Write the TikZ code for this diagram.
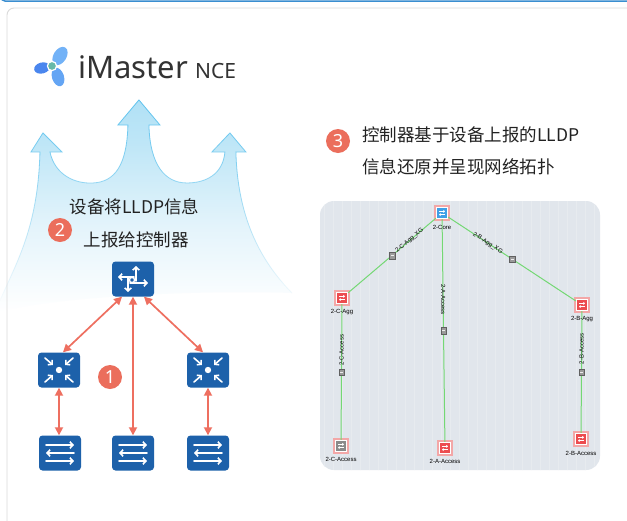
\documentclass[tikz,border=0pt]{standalone}
\usepackage{fontspec}
\setmainfont{Noto Sans}
\newfontfamily\cjk{Noto Sans CJK SC}
\newfontfamily\labfont{Liberation Sans}
\usetikzlibrary{arrows.meta,calc,fadings}

\definecolor{frameblue}{HTML}{3A8ED0}
\definecolor{panelline}{HTML}{DADADA}
\definecolor{devblue}{HTML}{1D61AA}
\definecolor{linkred}{HTML}{EE6F60}
\definecolor{badgered}{HTML}{EB6E5C}
\definecolor{plumetop}{HTML}{8FD4F3}
\definecolor{plumeupper}{HTML}{BEE6F7}
\definecolor{plumemid}{HTML}{E4F4FB}
\definecolor{plumeedge}{HTML}{5CC2EE}
\definecolor{panelgray}{HTML}{E1E6EC}
\definecolor{gridgray}{HTML}{E7EBEF}
\definecolor{topolink}{HTML}{74D874}
\definecolor{topored}{HTML}{EC4C4F}
\definecolor{topopink}{HTML}{F3A7A7}
\definecolor{topoblue}{HTML}{3E9FE6}
\definecolor{topogray}{HTML}{8A8A8A}
\definecolor{markergray}{HTML}{9A9A9A}
\definecolor{textdark}{HTML}{222222}
\definecolor{titlegray}{HTML}{333333}
\definecolor{lobeA}{HTML}{72B2F7}
\definecolor{lobeB}{HTML}{4A86EE}
\definecolor{lobeC}{HTML}{64A5F4}
\definecolor{lobeteal}{HTML}{67B9A9}

% vertical fill of the plume: white at the bottom, sky blue at the arrow tips
\pgfdeclareverticalshading{plumeshade}{100bp}{color(0bp)=(white); color(25bp)=(white);
  color(45bp)=(plumemid); color(65bp)=(plumeupper); color(100bp)=(plumetop)}

% outline of the three rising arrows (open path, bottom edge added when filling)
\newcommand\plumeoutline{(-2,305)
  .. controls (15,265) and (38,230) .. (40,152)
  -- (31,152) -- (43,133) -- (62,152) -- (50,152)
  .. controls (55,175) and (75,184) .. (93,183)
  .. controls (115,182) and (127,165) .. (128,125)
  -- (118,125) -- (139,100) -- (160,125) -- (149,125)
  .. controls (150,165) and (165,183) .. (187,183)
  .. controls (205,183) and (223,175) .. (225,152)
  -- (212,152) -- (230,133) -- (246,152) -- (236,152)
  .. controls (238,230) and (270,270) .. (292,293)}

\tikzset{
  dev/.style={rectangle, rounded corners=3.5pt, fill=devblue,
    minimum width=42pt, minimum height=35pt, inner sep=0pt},
  glyph/.style={white, line width=1.6pt, line cap=round},
  barb/.style={-{Straight Barb[length=3pt,width=6.5pt]}},
  lldp/.style={linkred, line width=1.7pt,
    {Triangle[length=8pt,width=8pt]}-{Triangle[length=8pt,width=8pt]}},
  badge/.style={circle, fill=badgered, text=white, minimum size=24pt,
    inner sep=0pt, font=\bfseries\fontsize{18}{18}\selectfont},
  cntext/.style={text=textdark, inner sep=0pt, font=\cjk\fontsize{17.5}{17.5}\selectfont},
  topo/.style={rectangle, minimum size=11pt, inner sep=0pt, fill=#1,
    draw=white, line width=1.4pt, preaction={draw=topopink, line width=4.6pt}},
  tlab/.style={inner sep=0pt, font=\labfont\fontsize{6}{6}\selectfont, text=black},
  tlink/.style={topolink, line width=1pt},
  marker/.style={rectangle, minimum width=5.5pt, minimum height=6.5pt, inner sep=0pt,
    fill=markergray, draw=gray!75!black, line width=0.4pt,
    path picture={\draw[white!85!gray, line width=0.5pt]
      ([xshift=-1.5pt]path picture bounding box.center) -- ([xshift=1.5pt]path picture bounding box.center);}},
  pics/routerglyph/.style={code={
    \draw[glyph,barb] (3,2) -- (3,-13);
    \draw[glyph,barb] (1,-2) -- (-15,-2);
    \draw[glyph,barb] (-5,-1) -- (-5,13);
    \draw[glyph,barb] (-3,4) -- (15,4);
    \draw[white, line width=1.4pt] (-1,1) circle (2.6pt);
  }},
  pics/aggglyph/.style={code={
    \draw[glyph,barb] (-14,-12) -- (-6,-5);
    \draw[glyph,barb] (14,-12) -- (6,-5);
    \draw[glyph,barb] (-14,12) -- (-6,5);
    \draw[glyph,barb] (14,12) -- (6,5);
    \fill[white] (0,0) circle (3.2pt);
  }},
  pics/accglyph/.style={code={
    \draw[glyph,barb] (-14,-8) -- (14,-8);
    \draw[glyph,barb] (14,0) -- (-14,0);
    \draw[glyph,barb] (-14,8) -- (14,8);
  }},
}

\begin{document}
\begin{tikzpicture}[x=1pt,y=-1pt]
\useasboundingbox (0,0) rectangle (627,520);

% frame edge along the top and the white card
\draw[frameblue, line width=1.5pt, rounded corners=4pt] (1,-10) -- (1,1) -- (640,1);
\fill[white, rounded corners=7pt] (7,8) rectangle (650,540);

% iMaster NCE logo
\fill[lobeA, rotate around={58:(60,56)}] (60,56) ellipse (10pt and 6.5pt);
\fill[lobeB, rotate around={14:(42,68)}] (42,68) ellipse (8pt and 5.5pt);
\fill[lobeC, rotate around={-72:(58,77)}] (58,77) ellipse (9.5pt and 6pt);
\filldraw[fill=lobeteal, draw=white, line width=1.2pt] (52,66) circle (4.6pt);
\node[anchor=base west, inner sep=0pt, text=titlegray,
  font=\fontsize{31}{31}\selectfont] (title) at (78,78) {iMaster};
\node[anchor=base west, inner sep=0pt, text=titlegray,
  font=\fontsize{21}{21}\selectfont] (titlence) at (195,78) {NCE};

% rising arrows: devices report LLDP data upward
\shade[shading=plumeshade]
  \plumeoutline .. controls (200,290) and (60,296) .. (-2,312) -- cycle;
\draw[plumeedge, line width=0.8pt, path fading=south] \plumeoutline;

% card border drawn over the plume
\draw[panelline, line width=0.9pt, rounded corners=7pt] (7,8) rectangle (650,540);

\node[cntext] (t2a) at (134.5,207) {设备将LLDP信息};
\node[cntext] (t2b) at (136,240) {上报给控制器};
\node[badge] (b2) at (60,230) {2};

% physical network
\node[dev] (core) at (133,279) {};
\node[dev] (aggL) at (59,370) {};
\node[dev] (aggR) at (208,370) {};
\node[dev] (accL) at (60,453) {};
\node[dev] (accC) at (133,453) {};
\node[dev] (accR) at (208,453) {};
\pic at (core.center) {routerglyph};
\pic at (aggL.center) {aggglyph};
\pic at (aggR.center) {aggglyph};
\pic at (accL.center) {accglyph};
\pic at (accC.center) {accglyph};
\pic at (accR.center) {accglyph};

\draw[lldp] ([xshift=-11pt]core.south) -- ([xshift=4pt]aggL.north);
\draw[lldp] (core.south) -- (accC.north);
\draw[lldp] ([xshift=11pt]core.south) -- ([xshift=-5pt]aggR.north);
\draw[lldp] (aggL.south) -- (aggL.south |- accL.north);
\draw[lldp] (aggR.south) -- (aggR.south |- accR.north);
\node[badge] (b1) at (110,377) {1};

% controller view
\node[badge] (b3) at (338,141) {3};
\node[cntext, anchor=west] (t3a) at (362,135) {控制器基于设备上报的LLDP};
\node[cntext, anchor=west] (t3b) at (362,167) {信息还原并呈现网络拓扑};

\fill[panelgray, rounded corners=14pt] (320,201) rectangle (600,470);
\begin{scope}
  \clip[rounded corners=14pt] (320,201) rectangle (600,470);
  \draw[gridgray, line width=0.5pt, step=9] (320,201) grid (600,470);
\end{scope}

\node[topo=topoblue] (tcore) at (442,213) {};
\node[topo=topored]  (tcagg) at (342,298) {};
\node[topo=topored]  (tbagg) at (582,305) {};
\node[topo=topogray] (tcacc) at (341,446) {};
\node[topo=topored]  (taacc) at (445,448) {};
\node[topo=topored]  (tbacc) at (581,439) {};

\draw[tlink] (tcore) -- node[marker]{} node[tlab, pos=0.3, rotate=40]{2-C-Agg\_XG} (tcagg);
\draw[tlink] (tcore) -- node[marker]{} node[tlab, pos=0.31, rotate=-33]{2-B-Agg\_XG} (tbagg);
\draw[tlink] (tcore) -- node[marker]{} node[tlab, pos=0.36, rotate=-90]{2-A-Access} (taacc);
\draw[tlink] (tcagg) -- node[marker]{} node[tlab, pos=0.34, rotate=90]{2-C-Access} (tcacc);
\draw[tlink] (tbagg) -- node[marker]{} node[tlab, pos=0.31, rotate=90]{2-B-Access} (tbacc);

\foreach \n in {tcore,tcagg,tbagg,tcacc,taacc,tbacc}{
  \draw[white, line width=0.6pt, -{Straight Barb[length=1.2pt,width=2.4pt]}]
    ([shift={(-3,-1.6)}]\n.center) -- ++(6,0);
  \draw[white, line width=0.6pt, -{Straight Barb[length=1.2pt,width=2.4pt]}]
    ([shift={(3,1.6)}]\n.center) -- ++(-6,0);
}

\node[tlab] (lcore) at ([yshift=-14pt]tcore.center) {2-Core};
\node[tlab] (lcagg) at ([yshift=-14pt]tcagg.center) {2-C-Agg};
\node[tlab] (lbagg) at ([yshift=-14pt]tbagg.center) {2-B-Agg};
\node[tlab] (lcacc) at ([yshift=-13pt]tcacc.center) {2-C-Access};
\node[tlab] (laacc) at ([yshift=-13pt]taacc.center) {2-A-Access};
\node[tlab] (lbacc) at ([yshift=-14pt]tbacc.center) {2-B-Access};
\end{tikzpicture}
\end{document}
